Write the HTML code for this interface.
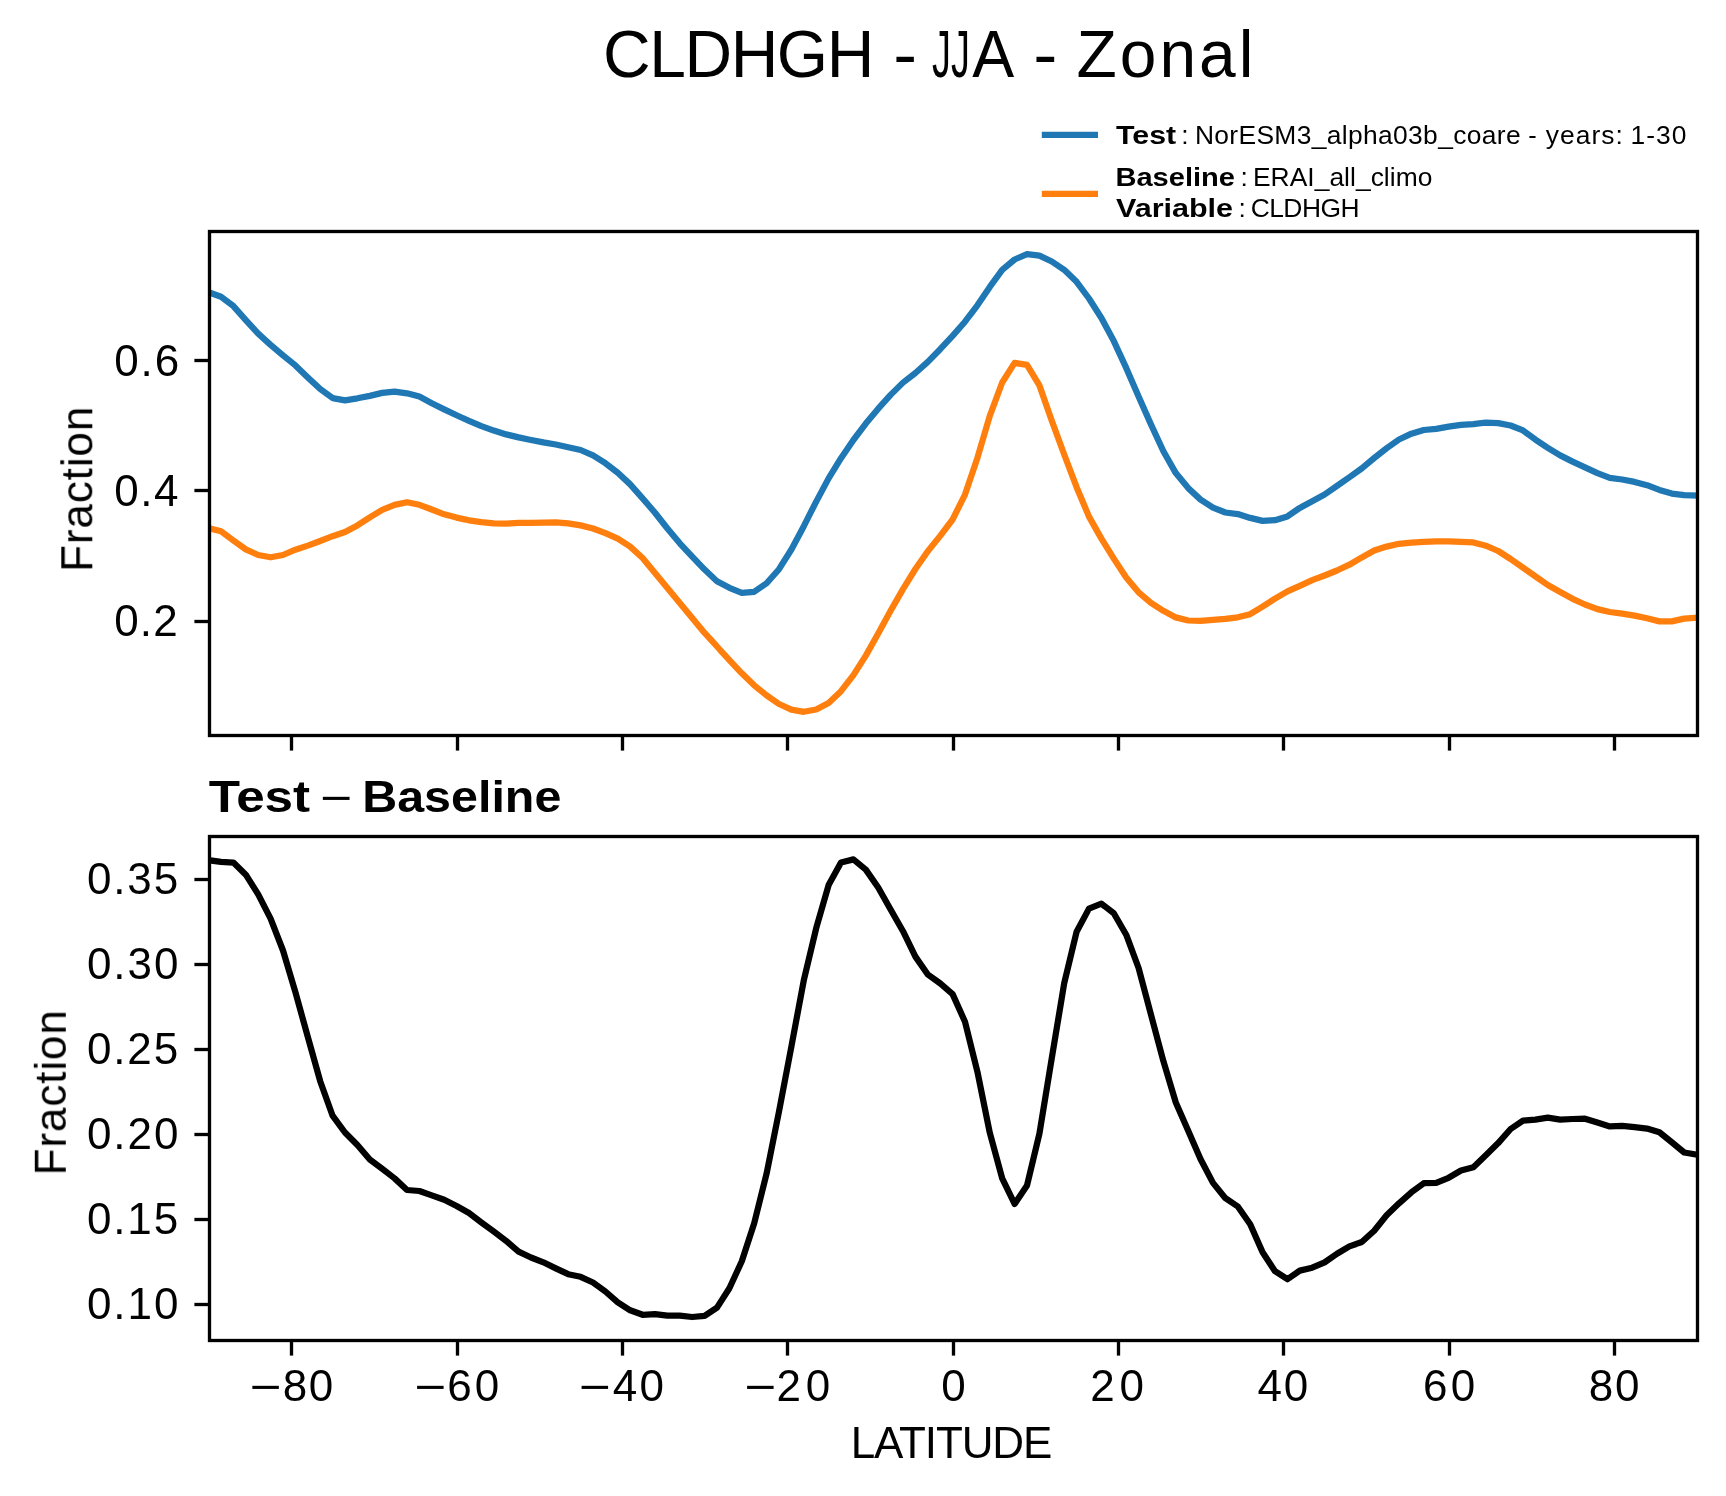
<!DOCTYPE html>
<html lang="en"><head><meta charset="utf-8"><title>CLDHGH - JJA - Zonal</title>
<style>html,body{margin:0;padding:0;background:#fff}body{width:1726px;height:1496px;overflow:hidden}svg{display:block}text{font-family:"Liberation Sans",sans-serif;fill:#000}</style></head><body>
<svg width="1726" height="1496" viewBox="0 0 1726 1496" font-family="Liberation Sans, sans-serif">
<rect width="1726" height="1496" fill="#fff"/>
<defs><clipPath id="c1"><rect x="209.5" y="231.5" width="1488.0" height="504.0"/></clipPath><clipPath id="c2"><rect x="209.5" y="836.5" width="1488.0" height="504.0"/></clipPath></defs>
<g opacity="0.999">
<text y="77.1" font-size="65.9"><tspan x="603.06" textLength="271.25" lengthAdjust="spacing">CLDHGH</tspan><tspan x="873.46" textLength="63.51" lengthAdjust="spacingAndGlyphs"> - </tspan><tspan x="932.11" textLength="37.8" lengthAdjust="spacingAndGlyphs">JJ</tspan><tspan x="972.28" textLength="41.95" lengthAdjust="spacingAndGlyphs">A</tspan><tspan x="1013.03" textLength="64.47" lengthAdjust="spacingAndGlyphs"> - </tspan><tspan x="1076.6" textLength="176.75" lengthAdjust="spacing">Zonal</tspan></text>
<line x1="1041.8" y1="134.9" x2="1098" y2="134.9" stroke="#1f77b4" stroke-width="6.25"/>
<line x1="1041.8" y1="193.8" x2="1098" y2="193.8" stroke="#ff7f0e" stroke-width="6.25"/>
<text y="144.20" font-size="26.40"><tspan x="1116.06" textLength="60.13" lengthAdjust="spacingAndGlyphs" font-weight="bold">Test</tspan> <tspan x="1181.24">:</tspan> <tspan x="1194.89" textLength="325.71" lengthAdjust="spacing">NorESM3_alpha03b_coare</tspan> <tspan x="1528.31" textLength="8.44" lengthAdjust="spacingAndGlyphs">-</tspan> <tspan x="1545.83" textLength="76.96" lengthAdjust="spacing">years:</tspan> <tspan x="1630.59" textLength="55.80" lengthAdjust="spacing">1-30</tspan></text>
<text y="185.90" font-size="26.40"><tspan x="1115.41" textLength="119.65" lengthAdjust="spacingAndGlyphs" font-weight="bold">Baseline</tspan> <tspan x="1240.54">:</tspan> <tspan x="1252.92" textLength="179.46" lengthAdjust="spacing">ERAI_all_climo</tspan></text>
<text y="217.00" font-size="26.40"><tspan x="1116.03" textLength="117.03" lengthAdjust="spacingAndGlyphs" font-weight="bold">Variable</tspan> <tspan x="1238.54">:</tspan> <tspan x="1250.69" textLength="108.80" lengthAdjust="spacing">CLDHGH</tspan></text>
<g fill="none" stroke-width="6.25" stroke-linejoin="round" stroke-linecap="square">
<polyline clip-path="url(#c1)" stroke="#1f77b4" points="208.6,292.2 221.0,296.7 233.4,306.1 245.8,320.1 258.2,333.7 270.6,344.8 283.0,355.4 295.4,365.4 307.8,377.4 320.2,389.0 332.6,398.1 345.0,400.3 357.4,398.3 369.8,395.9 382.2,392.9 394.6,391.6 407.0,393.3 419.4,396.6 431.8,403.2 444.2,409.4 456.6,415.3 469.0,420.9 481.4,426.1 493.8,430.6 506.2,434.4 518.6,437.4 531.0,440.0 543.4,442.4 555.8,444.5 568.2,447.2 580.6,450.0 593.0,455.4 605.4,463.2 617.8,472.8 630.2,484.4 642.6,498.3 655.0,512.8 667.4,528.5 679.8,543.3 692.2,556.6 704.6,569.6 717.0,581.3 729.4,587.8 741.8,592.8 754.2,591.8 766.6,583.2 779.0,569.2 791.4,549.5 803.8,526.2 816.2,501.6 828.6,478.4 841.0,458.2 853.4,440.0 865.8,423.6 878.2,408.7 890.6,394.9 903.0,382.6 915.4,373.0 927.8,361.9 940.2,349.2 952.6,335.9 965.0,321.7 977.4,305.3 989.8,286.9 1002.2,269.9 1014.6,259.5 1027.0,254.2 1039.4,255.6 1051.8,261.5 1064.2,269.8 1076.6,281.8 1089.0,298.5 1101.4,318.0 1113.8,341.1 1126.2,367.9 1138.6,396.4 1151.0,424.6 1163.4,451.3 1175.8,473.1 1188.2,488.1 1200.6,499.6 1213.0,507.6 1225.4,512.5 1237.8,514.1 1250.2,517.9 1262.6,520.9 1275.0,520.2 1287.4,516.4 1299.8,507.9 1312.2,501.2 1324.6,494.5 1337.0,485.9 1349.4,477.3 1361.8,468.4 1374.2,458.0 1386.6,448.2 1399.0,439.5 1411.4,433.7 1423.8,430.0 1436.2,428.8 1448.6,426.7 1461.0,424.9 1473.4,424.1 1485.8,422.6 1498.2,423.1 1510.6,425.5 1523.0,430.4 1535.4,439.6 1547.8,447.8 1560.2,455.4 1572.6,461.6 1585.0,467.3 1597.4,473.1 1609.8,477.9 1622.2,479.5 1634.6,481.9 1647.0,485.2 1659.4,489.9 1671.8,493.6 1684.2,495.1 1696.6,495.5"/>
<polyline clip-path="url(#c1)" stroke="#ff7f0e" points="208.6,528.1 221.0,531.2 233.4,540.4 245.8,549.4 258.2,555.0 270.6,557.3 283.0,555.0 295.4,549.7 307.8,545.6 320.2,541.0 332.6,536.2 345.0,532.0 357.4,525.4 369.8,517.4 382.2,509.8 394.6,504.9 407.0,502.2 419.4,504.8 431.8,509.5 444.2,514.3 456.6,517.6 469.0,520.3 481.4,522.2 493.8,523.3 506.2,523.6 518.6,522.9 531.0,522.8 543.4,522.6 555.8,522.4 568.2,523.4 580.6,525.4 593.0,528.5 605.4,533.2 617.8,538.7 630.2,546.6 642.6,558.0 655.0,573.0 667.4,588.0 679.8,603.0 692.2,618.0 704.6,632.9 717.0,646.5 729.4,660.1 741.8,673.3 754.2,685.3 766.6,695.4 779.0,704.0 791.4,709.6 803.8,711.8 816.2,709.5 828.6,703.0 841.0,691.2 853.4,675.2 865.8,655.6 878.2,633.5 890.6,610.8 903.0,589.1 915.4,569.0 927.8,551.2 940.2,535.9 952.6,519.5 965.0,494.6 977.4,457.9 989.8,415.9 1002.2,382.5 1014.6,362.8 1027.0,364.8 1039.4,385.4 1051.8,420.8 1064.2,454.5 1076.6,487.2 1089.0,516.6 1101.4,538.6 1113.8,558.6 1126.2,577.5 1138.6,592.3 1151.0,602.8 1163.4,610.8 1175.8,617.4 1188.2,620.5 1200.6,620.8 1213.0,619.9 1225.4,618.9 1237.8,617.3 1250.2,614.2 1262.6,606.6 1275.0,598.6 1287.4,591.4 1299.8,585.8 1312.2,580.1 1324.6,575.5 1337.0,570.5 1349.4,564.7 1361.8,557.4 1374.2,550.5 1386.6,546.6 1399.0,543.8 1411.4,542.6 1423.8,541.8 1436.2,541.3 1448.6,541.3 1461.0,541.8 1473.4,542.4 1485.8,545.7 1498.2,551.0 1510.6,559.0 1523.0,567.6 1535.4,576.4 1547.8,585.0 1560.2,592.0 1572.6,598.8 1585.0,604.5 1597.4,609.1 1609.8,612.0 1622.2,613.7 1634.6,615.6 1647.0,618.3 1659.4,621.4 1671.8,621.4 1684.2,618.6 1696.6,617.7"/>
<polyline clip-path="url(#c2)" stroke="#000" points="208.6,860.2 221.0,861.9 233.4,862.6 245.8,874.7 258.2,894.4 270.6,918.6 283.0,950.5 295.4,992.1 307.8,1036.9 320.2,1081.2 332.6,1115.7 345.0,1132.5 357.4,1145.0 369.8,1159.5 382.2,1168.8 394.6,1178.4 407.0,1190.0 419.4,1191.0 431.8,1195.4 444.2,1199.8 456.6,1206.0 469.0,1213.0 481.4,1222.5 493.8,1231.6 506.2,1240.9 518.6,1251.7 531.0,1257.5 543.4,1262.3 555.8,1268.4 568.2,1274.2 580.6,1276.8 593.0,1282.5 605.4,1291.5 617.8,1302.3 630.2,1310.3 642.6,1314.8 655.0,1314.1 667.4,1315.7 679.8,1315.6 692.2,1317.0 704.6,1315.9 717.0,1307.6 729.4,1288.2 741.8,1261.2 754.2,1223.3 766.6,1173.6 779.0,1111.5 791.4,1046.5 803.8,980.3 816.2,928.2 828.6,885.1 841.0,862.5 853.4,859.4 865.8,869.6 878.2,887.5 890.6,909.5 903.0,931.2 915.4,956.6 927.8,974.5 940.2,983.4 952.6,994.1 965.0,1021.7 977.4,1071.7 989.8,1132.8 1002.2,1178.4 1014.6,1203.9 1027.0,1185.4 1039.4,1133.8 1051.8,1058.0 1064.2,983.3 1076.6,931.8 1089.0,908.6 1101.4,903.7 1113.8,913.3 1126.2,934.7 1138.6,968.0 1151.0,1014.7 1163.4,1061.2 1175.8,1102.5 1188.2,1130.8 1200.6,1159.2 1213.0,1182.9 1225.4,1198.2 1237.8,1206.5 1250.2,1224.2 1262.6,1252.3 1275.0,1271.2 1287.4,1279.2 1299.8,1270.6 1312.2,1267.7 1324.6,1262.4 1337.0,1253.7 1349.4,1246.4 1361.8,1242.0 1374.2,1230.7 1386.6,1215.3 1399.0,1203.3 1411.4,1192.3 1423.8,1183.2 1436.2,1182.8 1448.6,1177.8 1461.0,1170.5 1473.4,1167.2 1485.8,1155.2 1498.2,1143.1 1510.6,1129.0 1523.0,1120.7 1535.4,1119.6 1547.8,1117.7 1560.2,1119.6 1572.6,1119.0 1585.0,1118.7 1597.4,1122.5 1609.8,1126.4 1622.2,1125.9 1634.6,1127.2 1647.0,1128.6 1659.4,1132.3 1671.8,1142.3 1684.2,1152.5 1696.6,1154.6"/>
</g>
<g fill="none" stroke="#000" stroke-width="3.33" stroke-linejoin="miter">
<rect x="209.5" y="231.5" width="1488.0" height="504.0"/>
<rect x="209.5" y="836.5" width="1488.0" height="504.0"/>
<line x1="291.5" y1="735.5" x2="291.5" y2="750.6"/>
<line x1="291.5" y1="1340.5" x2="291.5" y2="1355.6"/>
<line x1="457.5" y1="735.5" x2="457.5" y2="750.6"/>
<line x1="457.5" y1="1340.5" x2="457.5" y2="1355.6"/>
<line x1="622.5" y1="735.5" x2="622.5" y2="750.6"/>
<line x1="622.5" y1="1340.5" x2="622.5" y2="1355.6"/>
<line x1="787.5" y1="735.5" x2="787.5" y2="750.6"/>
<line x1="787.5" y1="1340.5" x2="787.5" y2="1355.6"/>
<line x1="953.5" y1="735.5" x2="953.5" y2="750.6"/>
<line x1="953.5" y1="1340.5" x2="953.5" y2="1355.6"/>
<line x1="1118.5" y1="735.5" x2="1118.5" y2="750.6"/>
<line x1="1118.5" y1="1340.5" x2="1118.5" y2="1355.6"/>
<line x1="1283.5" y1="735.5" x2="1283.5" y2="750.6"/>
<line x1="1283.5" y1="1340.5" x2="1283.5" y2="1355.6"/>
<line x1="1449.5" y1="735.5" x2="1449.5" y2="750.6"/>
<line x1="1449.5" y1="1340.5" x2="1449.5" y2="1355.6"/>
<line x1="1614.5" y1="735.5" x2="1614.5" y2="750.6"/>
<line x1="1614.5" y1="1340.5" x2="1614.5" y2="1355.6"/>
<line x1="194.4" y1="360.5" x2="209.5" y2="360.5"/>
<line x1="194.4" y1="490.5" x2="209.5" y2="490.5"/>
<line x1="194.4" y1="621.5" x2="209.5" y2="621.5"/>
<line x1="194.4" y1="879.5" x2="209.5" y2="879.5"/>
<line x1="194.4" y1="964.5" x2="209.5" y2="964.5"/>
<line x1="194.4" y1="1049.5" x2="209.5" y2="1049.5"/>
<line x1="194.4" y1="1134.5" x2="209.5" y2="1134.5"/>
<line x1="194.4" y1="1219.5" x2="209.5" y2="1219.5"/>
<line x1="194.4" y1="1304.5" x2="209.5" y2="1304.5"/>
</g>
<text y="375.80" font-size="44.00"><tspan x="114.14" textLength="65.11" lengthAdjust="spacing">0.6</tspan></text>
<text y="505.80" font-size="44.00"><tspan x="114.14" textLength="64.39" lengthAdjust="spacing">0.4</tspan></text>
<text y="635.70" font-size="44.00"><tspan x="114.14" textLength="63.66" lengthAdjust="spacing">0.2</tspan></text>
<text y="894.10" font-size="44.00"><tspan x="86.89" textLength="91.25" lengthAdjust="spacing">0.35</tspan></text>
<text y="979.10" font-size="44.00"><tspan x="86.89" textLength="91.57" lengthAdjust="spacing">0.30</tspan></text>
<text y="1064.10" font-size="44.00"><tspan x="86.89" textLength="91.28" lengthAdjust="spacing">0.25</tspan></text>
<text y="1149.10" font-size="44.00"><tspan x="86.89" textLength="91.57" lengthAdjust="spacing">0.20</tspan></text>
<text y="1234.10" font-size="44.00"><tspan x="86.89" textLength="91.25" lengthAdjust="spacing">0.15</tspan></text>
<text y="1319.10" font-size="44.00"><tspan x="86.89" textLength="91.57" lengthAdjust="spacing">0.10</tspan></text>
<text y="1400.50" font-size="44.00"><tspan x="249.70" dy="1.0" textLength="31.90" lengthAdjust="spacingAndGlyphs">−</tspan><tspan x="282.76" dy="-1.0" textLength="50.53" lengthAdjust="spacing">80</tspan></text>
<text y="1400.50" font-size="44.00"><tspan x="414.47" dy="1.0" textLength="31.90" lengthAdjust="spacingAndGlyphs">−</tspan><tspan x="447.15" dy="-1.0" textLength="52.02" lengthAdjust="spacing">60</tspan></text>
<text y="1400.50" font-size="44.00"><tspan x="579.14" dy="1.0" textLength="31.88" lengthAdjust="spacingAndGlyphs">−</tspan><tspan x="612.79" dy="-1.0" textLength="51.11" lengthAdjust="spacing">40</tspan></text>
<text y="1400.50" font-size="44.00"><tspan x="744.47" dy="1.0" textLength="31.90" lengthAdjust="spacingAndGlyphs">−</tspan><tspan x="776.59" dy="-1.0" textLength="53.72" lengthAdjust="spacing">20</tspan></text>
<text y="1400.50" font-size="44.00"><tspan x="941.28">0</tspan></text>
<text y="1400.50" font-size="44.00"><tspan x="1090.24" textLength="53.84" lengthAdjust="spacing">20</tspan></text>
<text y="1400.50" font-size="44.00"><tspan x="1257.56" textLength="50.72" lengthAdjust="spacing">40</tspan></text>
<text y="1400.50" font-size="44.00"><tspan x="1423.02" textLength="52.21" lengthAdjust="spacing">60</tspan></text>
<text y="1400.50" font-size="44.00"><tspan x="1588.71" textLength="50.68" lengthAdjust="spacing">80</tspan></text>
<text y="1458.30" font-size="44.00"><tspan x="850.73" textLength="201.59" lengthAdjust="spacing">LATITUDE</tspan></text>
<text transform="translate(92.30,571.86) rotate(-90)" x="0" y="0" font-size="44.00" textLength="165.21" lengthAdjust="spacing">Fraction</text>
<text transform="translate(65.80,1175.36) rotate(-90)" x="0" y="0" font-size="44.00" textLength="165.21" lengthAdjust="spacing">Fraction</text>
<text y="812.10" font-size="44.00"><tspan x="208.70" textLength="101.41" lengthAdjust="spacingAndGlyphs" font-weight="bold">Test</tspan> <tspan x="320.31" dy="1.0" textLength="32.13" lengthAdjust="spacingAndGlyphs">−</tspan> <tspan x="362.26" dy="-1.0" textLength="199.06" lengthAdjust="spacingAndGlyphs" font-weight="bold">Baseline</tspan></text>
</g></svg></body></html>
